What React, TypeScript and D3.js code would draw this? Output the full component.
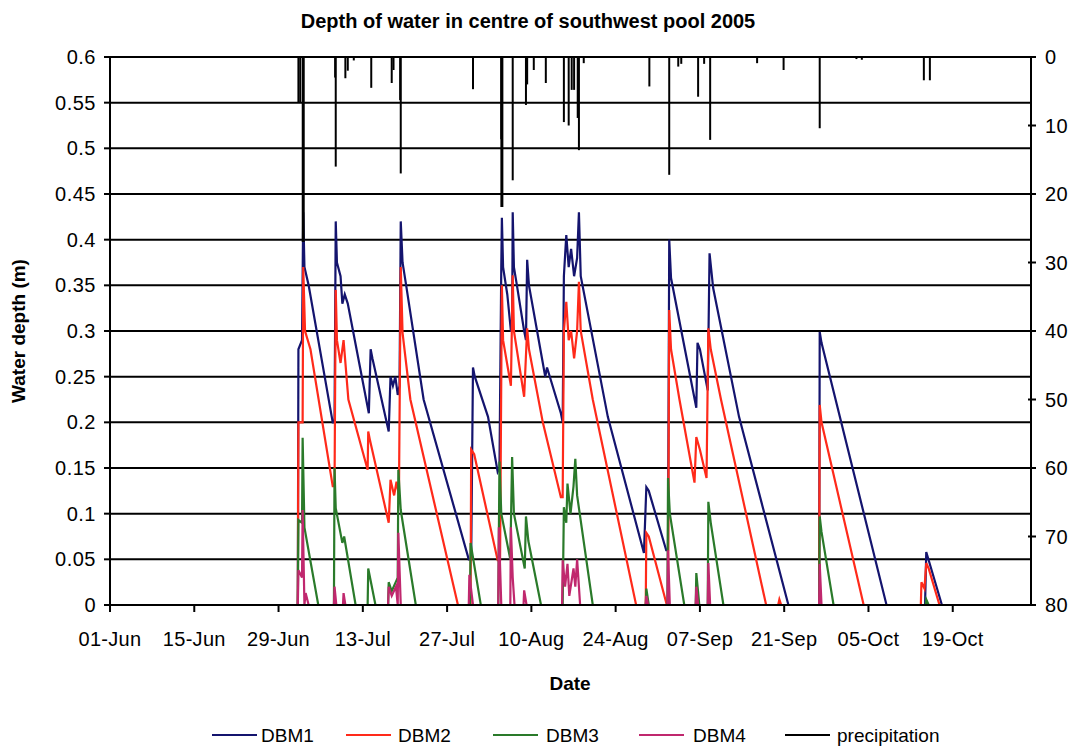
import React from "react";
import * as d3 from "d3";

// Day offsets are counted from 01-Jun-2005
const baseDate = new Date(2005, 5, 1);
const endDate = new Date(2005, 10, 1);

const xTickLabels = ["01-Jun", "15-Jun", "29-Jun", "13-Jul", "27-Jul", "10-Aug", "24-Aug", "07-Sep", "21-Sep", "05-Oct", "19-Oct"];
const leftTicks = [0, 0.05, 0.1, 0.15, 0.2, 0.25, 0.3, 0.35, 0.4, 0.45, 0.5, 0.55, 0.6];
const rightTicks = [0, 10, 20, 30, 40, 50, 60, 70, 80];

const dbm1: [number, number][] = [
  [31.2, 0], [31.3, 0.28], [31.9, 0.29], [32.1, 0.43], [32.3, 0.37], [33.0, 0.35], [37.0, 0.2],
  [37.3, 0.2], [37.5, 0.42], [37.7, 0.375], [38.3, 0.36], [38.6, 0.33], [39.0, 0.34], [39.5, 0.33], [43.0, 0.21],
  [43.3, 0.28], [43.6, 0.27], [46.3, 0.19], [46.6, 0.25], [47.0, 0.24], [47.4, 0.25], [47.8, 0.23], [48.1, 0.24],
  [48.3, 0.42], [48.6, 0.375], [49.2, 0.35], [52.1, 0.225], [59.6, 0.05], [60.0, 0.05], [60.3, 0.26], [60.6, 0.25],
  [62.8, 0.206], [64.4, 0.146], [64.7, 0.15], [65.0, 0.37], [65.1, 0.424], [65.3, 0.37], [66.0, 0.34], [66.6, 0.3],
  [66.8, 0.3], [66.9, 0.43], [67.1, 0.37], [67.6, 0.35], [68.8, 0.3], [69.1, 0.29], [69.3, 0.378], [69.6, 0.35],
  [71.9, 0.265], [72.3, 0.25], [72.6, 0.26], [74.9, 0.21], [75.2, 0.2], [75.4, 0.36], [75.8, 0.405], [76.2, 0.37], [76.6, 0.39],
  [77.1, 0.36], [77.6, 0.38], [77.9, 0.43], [78.2, 0.36], [82.7, 0.206], [88.7, 0.057], [89.1, 0.129], [89.5, 0.125],
  [92.4, 0.06], [92.7, 0.06], [92.9, 0.4], [93.2, 0.358], [97.4, 0.216], [97.6, 0.287], [98.0, 0.28], [99.3, 0.235],
  [99.6, 0.385], [100.2, 0.347], [104.5, 0.206], [112.7, 0], [117.8, 0], [117.9, 0.299], [118.2, 0.287], [129.0, 0],
  [135.4, 0], [135.6, 0.058], [138.2, 0],
];

const dbm2: [number, number][] = [
  [31.2, 0], [31.3, 0.2], [32.0, 0.2], [32.1, 0.37], [32.4, 0.3], [33.3, 0.28], [37.0, 0.13], [37.3, 0.13],
  [37.5, 0.345], [37.7, 0.29], [38.3, 0.265], [38.8, 0.29], [39.6, 0.225], [42.8, 0.148], [42.9, 0.19], [43.2, 0.18],
  [46.3, 0.09], [46.6, 0.137], [47.2, 0.12], [47.6, 0.135], [48.0, 0.12], [48.3, 0.37], [48.6, 0.298], [49.9, 0.225],
  [57.8, 0], [59.9, 0], [60.0, 0.17], [60.5, 0.165], [64.4, 0.049], [64.8, 0.049], [65.1, 0.35], [65.3, 0.29],
  [66.6, 0.24], [66.9, 0.361], [67.1, 0.3], [68.8, 0.228], [69.3, 0.303], [69.6, 0.28], [71.9, 0.2], [74.9, 0.118],
  [75.2, 0.118], [75.4, 0.3], [75.8, 0.332], [76.2, 0.29], [76.6, 0.3], [77.1, 0.27], [77.6, 0.3], [77.9, 0.354],
  [78.2, 0.3], [80.2, 0.225], [87.4, 0], [89.0, 0], [89.1, 0.079], [89.5, 0.075], [92.5, 0], [92.7, 0],
  [92.9, 0.323], [93.2, 0.28], [94.6, 0.225], [97.1, 0.134], [97.4, 0.184], [98.0, 0.17], [99.1, 0.139], [99.4, 0.303],
  [99.8, 0.28], [101.5, 0.225], [109.0, 0], [111.0, 0], [111.2, 0.006], [111.5, 0], [117.8, 0], [117.9, 0.219],
  [118.2, 0.2], [125.2, 0], [134.7, 0], [134.8, 0.025], [135.3, 0.018], [135.6, 0.046], [136.0, 0.04], [137.8, 0],
];

const dbm3: [number, number][] = [
  [31.2, 0], [31.3, 0.093], [31.9, 0.09], [32.0, 0.183], [32.3, 0.085], [34.6, 0], [37.2, 0], [37.3, 0.15],
  [37.5, 0.106], [38.6, 0.068], [38.9, 0.075], [40.8, 0], [42.8, 0], [42.9, 0.04], [44.1, 0], [46.2, 0],
  [46.3, 0.025], [46.8, 0.015], [47.8, 0.03], [47.9, 0.148], [48.3, 0.104], [50.8, 0], [59.8, 0], [59.9, 0.068],
  [61.6, 0], [64.5, 0], [64.7, 0.157], [65.0, 0.1], [66.5, 0.05], [66.8, 0.162], [67.1, 0.1], [68.9, 0.04],
  [69.1, 0.097], [69.5, 0.07], [71.6, 0], [75.2, 0], [75.4, 0.107], [75.8, 0.09], [76.0, 0.133], [76.5, 0.1],
  [77.0, 0.13], [77.3, 0.16], [77.6, 0.12], [80.2, 0], [89.0, 0], [89.1, 0.018], [89.5, 0], [92.6, 0],
  [92.7, 0.139], [93.0, 0.1], [95.4, 0], [97.3, 0], [97.4, 0.035], [97.9, 0], [99.3, 0], [99.4, 0.113],
  [99.8, 0.09], [101.9, 0], [117.8, 0], [117.9, 0.097], [118.2, 0.08], [120.2, 0], [135.5, 0], [135.6, 0.006],
  [136.0, 0],
];

const dbm4: [number, number][] = [
  [31.2, 0], [31.3, 0.038], [31.9, 0.03], [32.0, 0.104], [32.3, 0], [32.5, 0.013], [33.0, 0], [37.2, 0],
  [37.3, 0.02], [37.6, 0], [38.7, 0], [38.8, 0.013], [39.1, 0], [46.2, 0], [46.3, 0.02], [46.8, 0.01],
  [47.5, 0.02], [47.8, 0], [47.9, 0.079], [48.3, 0], [59.6, 0], [59.7, 0.033], [60.3, 0], [64.5, 0],
  [64.6, 0.085], [65.0, 0], [66.5, 0], [66.6, 0.085], [66.9, 0.03], [67.2, 0], [68.7, 0], [68.8, 0.016],
  [69.2, 0], [75.1, 0], [75.2, 0.049], [75.6, 0.02], [76.0, 0.045], [76.3, 0.01], [77.0, 0.04], [77.3, 0.02],
  [77.6, 0.05], [78.1, 0], [89.0, 0], [89.1, 0.01], [89.4, 0], [92.6, 0], [92.7, 0.06], [93.0, 0],
  [97.3, 0], [97.4, 0.02], [97.7, 0], [99.3, 0], [99.4, 0.046], [99.7, 0], [117.8, 0], [117.9, 0.045],
  [118.2, 0],
];

// precipitation (mm) per event: [day offset, mm]
const precipitation: [number, number][] = [
  [31.3, 6.7], [31.6, 6.7], [32.1, 27], [37.4, 3], [37.5, 16], [39.1, 3.1], [39.5, 2], [40.5, 0.5],
  [43.4, 4.5], [46.8, 3.8], [47.1, 1.9], [48.2, 6.3], [48.3, 17], [60.3, 4.7], [65.0, 12], [65.1, 21.9],
  [66.9, 18], [69.1, 7], [69.3, 4], [70.4, 1.9], [72.4, 3.8], [75.4, 9.5], [76.2, 10], [76.7, 4.8],
  [77.1, 4.8], [77.7, 8.9], [77.9, 13.6], [78.7, 0.9], [89.6, 4.3], [92.9, 17.2], [94.4, 1.4], [94.9, 1.0],
  [97.7, 5.8], [98.7, 1], [99.7, 12.1], [107.5, 0.9], [111.9, 1.9], [117.9, 10.4], [124.0, 0.3], [124.9, 0.4],
  [135.2, 3.4], [136.2, 3.4],
];

const seriesNames = ["DBM1", "DBM2", "DBM3", "DBM4", "precipitation"];
const seriesColors = ["#14146e", "#ff2a1a", "#2a7a2a", "#c0286e", "#000000"];

const FONT = "Arial, 'Liberation Sans', sans-serif";

export default function App() {
  const W = 1078, H = 748;
  const left = 110, right = 1031, top = 57, bottom = 605;
  const dayMs = 86400000;
  const toDate = (d: number) => new Date(baseDate.getTime() + d * dayMs);

  const x = d3.scaleTime().domain([baseDate, endDate]).range([left, right]);
  const y = d3.scaleLinear().domain([0, 0.6]).range([bottom, top]);
  const y2 = d3.scaleLinear().domain([0, 80]).range([top, bottom]);

  const line = d3.line<[number, number]>().x((p) => x(toDate(p[0]))).y((p) => y(p[1]));

  const xTicks = xTickLabels.map((_, i) => toDate(i * 14));
  const series = [dbm1, dbm2, dbm3, dbm4];

  const legendItems = [
    { lx: 212, tx: 261 },
    { lx: 346, tx: 398 },
    { lx: 493, tx: 546 },
    { lx: 639, tx: 693 },
    { lx: 785, tx: 837 },
  ];

  return (
    <svg width={W} height={H} style={{ position: "absolute", left: 0, top: 0, background: "#fff" }} fontFamily={FONT}>
      <rect width={W} height={H} fill="#fff" />
      <text x={528} y={28} textAnchor="middle" fontSize={20} fontWeight="bold">
        Depth of water in centre of southwest pool 2005
      </text>

      {/* gridlines */}
      {leftTicks.map((t) => (
        <line key={"g" + t} x1={left} x2={right} y1={y(t)} y2={y(t)} stroke="#000" strokeWidth={2} />
      ))}
      {/* axes */}
      <line x1={left} x2={left} y1={top} y2={bottom} stroke="#000" strokeWidth={2} />
      <line x1={right} x2={right} y1={top} y2={bottom} stroke="#000" strokeWidth={2} />

      {/* left ticks */}
      {leftTicks.map((t) => (
        <g key={"l" + t}>
          <line x1={left - 6} x2={left} y1={y(t)} y2={y(t)} stroke="#000" strokeWidth={2} />
          <text x={96} y={y(t) + 7} textAnchor="end" fontSize={20} letterSpacing={0.5}>{String(t)}</text>
        </g>
      ))}
      {/* right ticks */}
      {rightTicks.map((t) => (
        <g key={"r" + t}>
          <line x1={right - 3} x2={right + 5} y1={y2(t)} y2={y2(t)} stroke="#000" strokeWidth={2} />
          <text x={1045} y={y2(t) + 7} textAnchor="start" fontSize={20} letterSpacing={0.5}>{String(t)}</text>
        </g>
      ))}
      {/* x ticks */}
      {xTicks.map((t, i) => (
        <g key={"x" + i}>
          <line x1={x(t)} x2={x(t)} y1={bottom} y2={bottom + 7} stroke="#000" strokeWidth={2} />
          <text x={x(t)} y={646} textAnchor="middle" fontSize={20} letterSpacing={0.3}>{xTickLabels[i]}</text>
        </g>
      ))}

      {/* series */}
      {series.map((s, i) => (
        <path key={"s" + i} d={line(s) || ""} fill="none" stroke={seriesColors[i]} strokeWidth={2.2} strokeLinejoin="miter" />
      ))}
      {precipitation.map((p, i) => (
        <line key={"p" + i} x1={x(toDate(p[0]))} x2={x(toDate(p[0]))} y1={y2(0)} y2={y2(p[1])} stroke="#000" strokeWidth={p[1] > 20 ? 3 : 2} />
      ))}
      <line x1={left} x2={right} y1={bottom} y2={bottom} stroke="#000" strokeWidth={2} />

      {/* axis titles */}
      <text transform={`translate(25,${(top + bottom) / 2}) rotate(-90)`} textAnchor="middle" fontSize={19} fontWeight="bold">
        Water depth (m)
      </text>
      <text x={570} y={690} textAnchor="middle" fontSize={19} fontWeight="bold">Date</text>

      {/* legend */}
      {legendItems.map((it, i) => (
        <g key={"lg" + i}>
          <line x1={it.lx} x2={it.lx + 45} y1={735} y2={735} stroke={seriesColors[i]} strokeWidth={2} />
          <text x={it.tx} y={742} fontSize={19}>{seriesNames[i]}</text>
        </g>
      ))}
    </svg>
  );
}
